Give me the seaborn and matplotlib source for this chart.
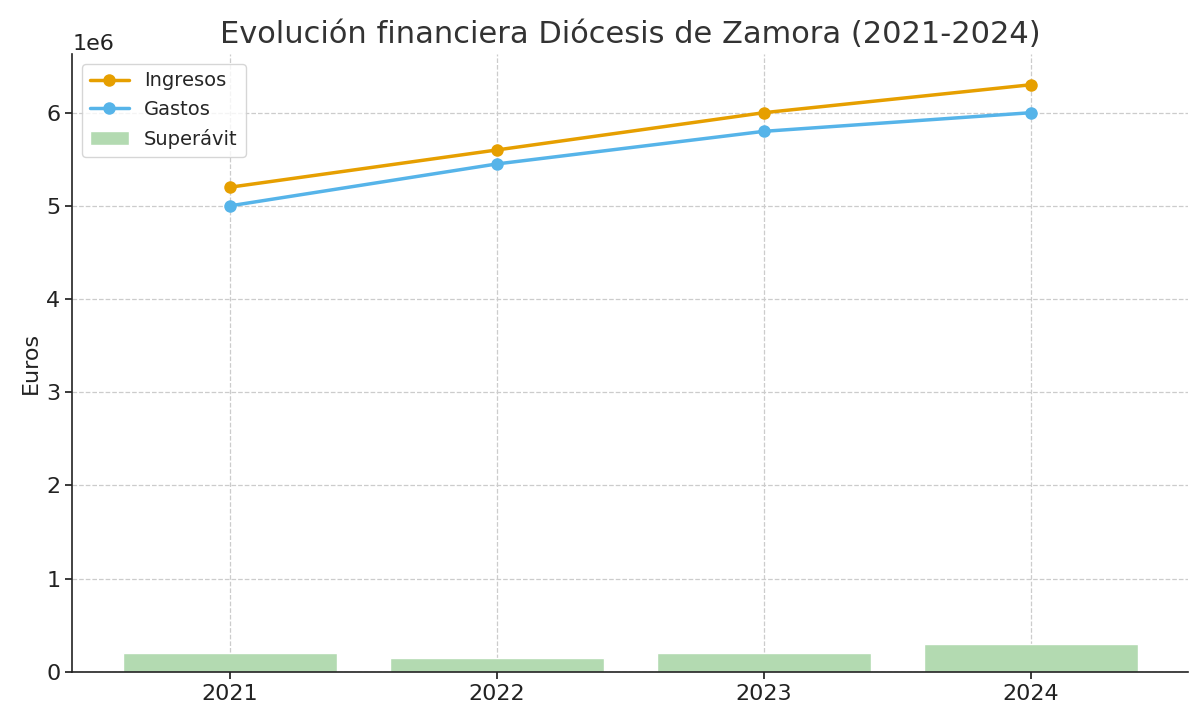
import matplotlib
matplotlib.use("Agg")
import matplotlib.pyplot as plt
import seaborn as sns
import pandas as pd

years = ["2021", "2022", "2023", "2024"]
ingresos = [5.2e6, 5.6e6, 6.0e6, 6.3e6]
gastos = [5.0e6, 5.45e6, 5.8e6, 6.0e6]
superavit = [0.2e6, 0.15e6, 0.2e6, 0.3e6]

sns.set_theme(style="whitegrid")
plt.rcParams['font.family'] = ['DejaVu Sans']
fig, ax = plt.subplots(figsize=(12.04, 7.2), dpi=100)
fig.subplots_adjust(left=0.06, right=0.987, top=0.925, bottom=0.067)

df = pd.DataFrame({"x": range(len(years)), "year": years,
                   "Ingresos": ingresos, "Gastos": gastos, "Superávit": superavit})

sns.barplot(data=df, x="year", y="Superávit", color="#b3dab1", saturation=1,
            width=0.8, label="Superávit", ax=ax, zorder=2)
sns.lineplot(data=df, x="x", y="Ingresos", color="#E69F00", marker="o",
             markersize=9, markeredgewidth=0, linewidth=2.5, label="Ingresos", ax=ax, zorder=3)
sns.lineplot(data=df, x="x", y="Gastos", color="#56B4E9", marker="o",
             markersize=9, markeredgewidth=0, linewidth=2.5, label="Gastos", ax=ax, zorder=3)

ax.set_xlim(-0.59, 3.59)
ax.set_ylim(0, 6.63e6)
ax.set_xticks(range(len(years)))
ax.set_xticklabels(years)
ax.set_xlabel("")
ax.set_ylabel("Euros", fontsize=16, color="#222222")
ax.set_title("Evolución financiera Diócesis de Zamora (2021-2024)", fontsize=22, color="#333333", pad=8)
ax.tick_params(labelsize=16, colors="#222222", length=5, left=True, bottom=True)
ax.yaxis.get_offset_text().set_fontsize(16)
ax.grid(True, linestyle="--", color="#cccccc", linewidth=0.9)
for s in ["top", "right"]:
    ax.spines[s].set_visible(False)
for s in ["left", "bottom"]:
    ax.spines[s].set_color("#222222")
    ax.spines[s].set_linewidth(1.2)

h, l = ax.get_legend_handles_labels()
order = [l.index("Ingresos"), l.index("Gastos"), l.index("Superávit")]
ax.legend([h[i] for i in order], [l[i] for i in order], loc="upper left",
          fontsize=14, frameon=True, facecolor="white", edgecolor="#cccccc")

fig.savefig("out.png", dpi=100)
